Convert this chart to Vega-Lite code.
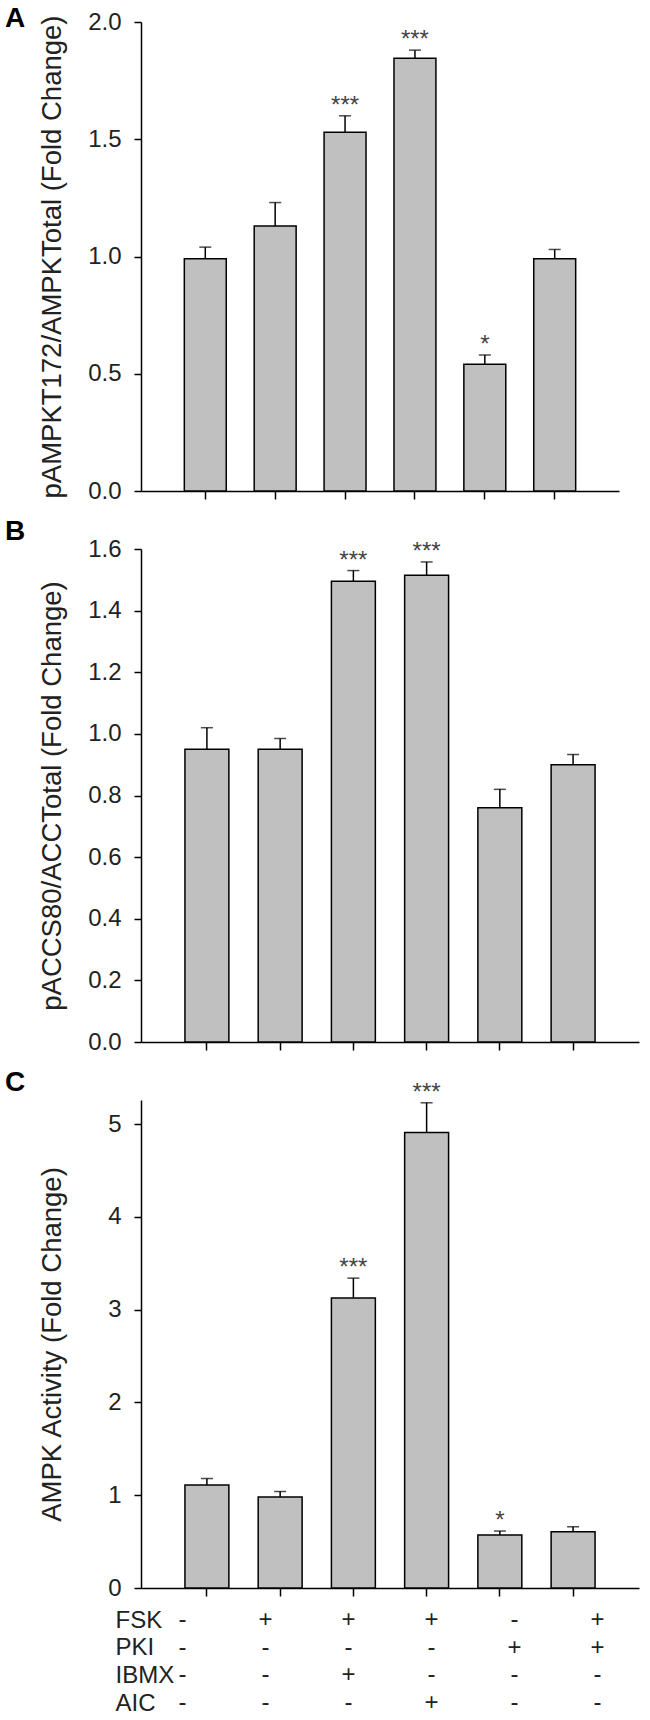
{
  "$schema": "https://vega.github.io/schema/vega-lite/v6.json",
  "padding": 5,
  "bounds": "flush",
  "spacing": 32,
  "config": {
    "view": {"stroke": null},
    "font": "Liberation Sans",
    "axis": {"grid": false, "domainColor": "#000", "domainWidth": 1.5, "tickColor": "#000", "tickWidth": 1.5, "labelFont": "Liberation Sans", "labelFontSize": 24, "labelColor": "#222", "titleFont": "Liberation Sans", "titleFontSize": 27.5, "titleFontWeight": "normal", "titleColor": "#222"},
    "title": {"font": "Liberation Sans", "fontSize": 28, "fontWeight": "bold", "anchor": "start", "frame": "group", "color": "#000", "dx": -136}
  },
  "datasets": {
    "a": [
      {"cond": "1", "v": 0.99, "hi": 1.04, "star": ""},
      {"cond": "2", "v": 1.13, "hi": 1.23, "star": ""},
      {"cond": "3", "v": 1.53, "hi": 1.60, "star": "***"},
      {"cond": "4", "v": 1.845, "hi": 1.88, "star": "***"},
      {"cond": "5", "v": 0.54, "hi": 0.58, "star": "*"},
      {"cond": "6", "v": 0.99, "hi": 1.03, "star": ""}
    ],
    "b": [
      {"cond": "1", "v": 0.95, "hi": 1.02, "star": ""},
      {"cond": "2", "v": 0.95, "hi": 0.985, "star": ""},
      {"cond": "3", "v": 1.495, "hi": 1.53, "star": "***"},
      {"cond": "4", "v": 1.515, "hi": 1.558, "star": "***"},
      {"cond": "5", "v": 0.76, "hi": 0.82, "star": ""},
      {"cond": "6", "v": 0.90, "hi": 0.933, "star": ""}
    ],
    "c": [
      {"cond": "1", "v": 1.11, "hi": 1.18, "star": ""},
      {"cond": "2", "v": 0.98, "hi": 1.04, "star": ""},
      {"cond": "3", "v": 3.125, "hi": 3.34, "star": "***"},
      {"cond": "4", "v": 4.91, "hi": 5.23, "star": "***"},
      {"cond": "5", "v": 0.57, "hi": 0.614, "star": "*"},
      {"cond": "6", "v": 0.607, "hi": 0.66, "star": ""}
    ],
    "t": [
      {"agent": "FSK", "cond": "1", "sign": "-"}, {"agent": "FSK", "cond": "2", "sign": "+"}, {"agent": "FSK", "cond": "3", "sign": "+"}, {"agent": "FSK", "cond": "4", "sign": "+"}, {"agent": "FSK", "cond": "5", "sign": "-"}, {"agent": "FSK", "cond": "6", "sign": "+"},
      {"agent": "PKI", "cond": "1", "sign": "-"}, {"agent": "PKI", "cond": "2", "sign": "-"}, {"agent": "PKI", "cond": "3", "sign": "-"}, {"agent": "PKI", "cond": "4", "sign": "-"}, {"agent": "PKI", "cond": "5", "sign": "+"}, {"agent": "PKI", "cond": "6", "sign": "+"},
      {"agent": "IBMX", "cond": "1", "sign": "-"}, {"agent": "IBMX", "cond": "2", "sign": "-"}, {"agent": "IBMX", "cond": "3", "sign": "+"}, {"agent": "IBMX", "cond": "4", "sign": "-"}, {"agent": "IBMX", "cond": "5", "sign": "-"}, {"agent": "IBMX", "cond": "6", "sign": "-"},
      {"agent": "AIC", "cond": "1", "sign": "-"}, {"agent": "AIC", "cond": "2", "sign": "-"}, {"agent": "AIC", "cond": "3", "sign": "-"}, {"agent": "AIC", "cond": "4", "sign": "+"}, {"agent": "AIC", "cond": "5", "sign": "-"}, {"agent": "AIC", "cond": "6", "sign": "-"}
    ]
  },
  "vconcat": [
    {
      "title": {"text": "A", "offset": -23},
      "width": 478,
      "height": 469,
      "data": {"name": "a"},
      "encoding": {
        "x": {"field": "cond", "type": "nominal", "sort": null, "scale": {"paddingInner": 0.4, "paddingOuter": 0.62}, "axis": {"labels": false, "title": null, "tickSize": 8, "domain": true, "ticks": true}}
      },
      "layer": [
        {"mark": {"type": "bar", "fill": "#c0c0c0", "stroke": "#000", "strokeWidth": 1.5},
         "encoding": {"y": {"field": "v", "type": "quantitative", "scale": {"domain": [0, 2], "nice": false}, "axis": {"values": [0, 0.5, 1, 1.5, 2], "format": ".1f", "tickSize": 7, "labelPadding": 13, "title": "pAMPKT172/AMPKTotal (Fold Change)", "titleX": -89, "titleBaseline": "middle", "titleAngle": -90}}}},
        {"mark": {"type": "rule", "color": "#000", "strokeWidth": 1.5},
         "encoding": {"y": {"field": "v", "type": "quantitative"}, "y2": {"field": "hi"}}},
        {"mark": {"type": "tick", "color": "#000", "thickness": 1.5},
         "encoding": {"y": {"field": "hi", "type": "quantitative"}, "size": {"value": 12}}},
        {"transform": [{"filter": "datum.star != ''"}],
         "mark": {"type": "text", "fontSize": 24, "color": "#444", "baseline": "alphabetic", "dy": -3},
         "encoding": {"y": {"field": "hi", "type": "quantitative"}, "text": {"field": "star"}}}
      ]
    },
    {
      "title": {"text": "B", "offset": -23},
      "width": 498,
      "height": 519,
      "data": {"name": "b"},
      "encoding": {
        "x": {"field": "cond", "type": "nominal", "sort": null, "scale": {"paddingInner": 0.4, "paddingOuter": 0.6}, "axis": {"labels": false, "title": null, "tickSize": 8, "domain": true, "ticks": true}}
      },
      "layer": [
        {"mark": {"type": "bar", "fill": "#c0c0c0", "stroke": "#000", "strokeWidth": 1.5},
         "encoding": {"y": {"field": "v", "type": "quantitative", "scale": {"domain": [0, 1.6], "nice": false, "range": [519, 26]}, "axis": {"values": [0, 0.2, 0.4, 0.6, 0.8, 1.0, 1.2, 1.4, 1.6], "format": ".1f", "tickSize": 7, "labelPadding": 13, "title": "pACCS80/ACCTotal (Fold Change)", "titleX": -89, "titleBaseline": "middle", "titleAngle": -90}}}},
        {"mark": {"type": "rule", "color": "#000", "strokeWidth": 1.5},
         "encoding": {"y": {"field": "v", "type": "quantitative"}, "y2": {"field": "hi"}}},
        {"mark": {"type": "tick", "color": "#000", "thickness": 1.5},
         "encoding": {"y": {"field": "hi", "type": "quantitative"}, "size": {"value": 12}}},
        {"transform": [{"filter": "datum.star != ''"}],
         "mark": {"type": "text", "fontSize": 24, "color": "#444", "baseline": "alphabetic", "dy": -3},
         "encoding": {"y": {"field": "hi", "type": "quantitative"}, "text": {"field": "star"}}}
      ]
    },
    {
      "title": {"text": "C", "offset": -23},
      "width": 498,
      "height": 514,
      "data": {"name": "c"},
      "encoding": {
        "x": {"field": "cond", "type": "nominal", "sort": null, "scale": {"paddingInner": 0.4, "paddingOuter": 0.6}, "axis": {"labels": false, "title": null, "tickSize": 8, "domain": true, "ticks": true}}
      },
      "layer": [
        {"mark": {"type": "bar", "fill": "#c0c0c0", "stroke": "#000", "strokeWidth": 1.5},
         "encoding": {"y": {"field": "v", "type": "quantitative", "scale": {"domain": [0, 5.26], "nice": false, "range": [514, 26]}, "axis": {"values": [0, 1, 2, 3, 4, 5], "format": "d", "tickSize": 7, "labelPadding": 13, "title": "AMPK Activity (Fold Change)", "titleX": -89, "titleBaseline": "middle", "titleAngle": -90}}}},
        {"mark": {"type": "rule", "color": "#000", "strokeWidth": 1.5},
         "encoding": {"y": {"field": "v", "type": "quantitative"}, "y2": {"field": "hi"}}},
        {"mark": {"type": "tick", "color": "#000", "thickness": 1.5},
         "encoding": {"y": {"field": "hi", "type": "quantitative"}, "size": {"value": 12}}},
        {"transform": [{"filter": "datum.star != ''"}],
         "mark": {"type": "text", "fontSize": 24, "color": "#444", "baseline": "alphabetic", "dy": -3},
         "encoding": {"y": {"field": "hi", "type": "quantitative"}, "text": {"field": "star"}}}
      ]
    },
    {
      "width": 498,
      "height": 83,
      "data": {"name": "t"},
      "mark": {"type": "text", "fontSize": 24, "color": "#222"},
      "encoding": {
        "x": {"field": "cond", "type": "nominal", "sort": null, "scale": {"paddingInner": 0.4, "paddingOuter": 0.6}, "axis": null},
        "y": {"field": "agent", "type": "nominal", "sort": ["FSK", "PKI", "IBMX", "AIC"], "scale": {"type": "point", "padding": 0}, "axis": {"domain": false, "ticks": false, "tickSize": 0, "labelAlign": "left", "labelPadding": 26, "labelFontSize": 24, "labelColor": "#222", "title": null}},
        "text": {"field": "sign"}
      }
    }
  ]
}
